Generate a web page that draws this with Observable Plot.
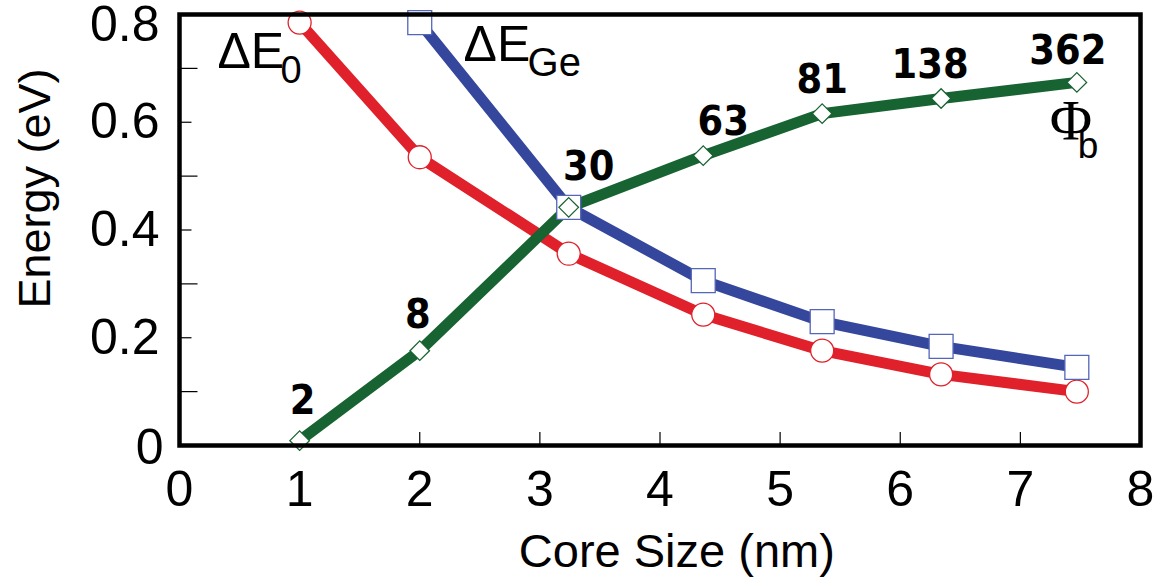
<!DOCTYPE html>
<html>
<head>
<meta charset="utf-8">
<script src="https://cdn.jsdelivr.net/npm/d3@7"></script>
<script src="https://cdn.jsdelivr.net/npm/@observablehq/plot@0.6"></script>
<style>
  html, body { margin: 0; padding: 0; background: #fff; }
  #chart svg { display: block; }
</style>
</head>
<body>
<div id="chart"></div>
<script>
// Core size (nm) for each sample
const coreSize = [1, 2, 3.24, 4.36, 5.35, 6.34, 7.47];
// ΔE0 (red circles)
const dE0 = [0.785, 0.535, 0.356, 0.243, 0.176, 0.132, 0.100];
// ΔEGe (blue squares) – starts at the second size
const dEGeSize = [2, 3.24, 4.36, 5.35, 6.34, 7.47];
const dEGe = [0.785, 0.442, 0.306, 0.230, 0.184, 0.145];
// Φb (green diamonds)
const phiB = [0.009, 0.176, 0.442, 0.538, 0.616, 0.644, 0.674];
// numbers of atoms labelled on the Φb points
const atomLabels = ["2", "8", "30", "63", "81", "138", "362"];

const xTicks = [0, 1, 2, 3, 4, 5, 6, 7, 8];
const yTicks = [0, 0.2, 0.4, 0.6, 0.8];
const yMinor = [0.1, 0.3, 0.5, 0.7];
const xLabel = "Core Size (nm)";
const yLabel = "Energy (eV)";

const red = "#e0202a", blue = "#34479c", green = "#176331";
const sans = "'Liberation Sans', Arial, Helvetica, sans-serif";
const narrowBold = "'Liberation Sans Narrow', 'Arial Narrow', 'DejaVu Sans Condensed', sans-serif";

const redData = coreSize.map((x, i) => ({x, y: dE0[i]}));
const blueData = dEGeSize.map((x, i) => ({x, y: dEGe[i]}));
const greenData = coreSize.map((x, i) => ({x, y: phiB[i], label: atomLabels[i]}));

const labelDx = {"2": 3, "8": -2, "30": 20, "63": 20, "81": 0, "138": -11, "362": -9};
const labelDy = {"2": -40, "8": -36, "30": -40, "63": -34, "81": -34, "138": -34, "362": -32};

const plot = Plot.plot({
  width: 1163,
  height: 587,
  marginLeft: 179,
  marginRight: 23,
  marginTop: 14,
  marginBottom: 142,
  style: {fontFamily: sans, background: "#fff", color: "#000"},
  x: {domain: [0, 8]},
  y: {domain: [0, 0.8]},
  marks: [
    // inward ticks
    Plot.ruleX(xTicks.slice(1, -1), {y1: 0, y2: 0.024, stroke: "#000", strokeWidth: 1.2}),
    Plot.ruleY(yTicks.slice(1, -1), {x1: 0, x2: 0.104, stroke: "#000", strokeWidth: 1.2}),
    Plot.ruleY(yMinor, {x1: 0, x2: 0.154, stroke: "#000", strokeWidth: 1.2}),
    // axes (labels only)
    Plot.axisX({ticks: xTicks, tickSize: 0, tickPadding: 25, fontSize: 50, label: null, tickFormat: d => String(d)}),
    Plot.axisY({ticks: yTicks.slice(1, -1), tickSize: 0, tickPadding: 20, fontSize: 50, label: null, tickFormat: d => d.toFixed(1)}),
    Plot.axisY({ticks: [0.8], tickSize: 0, tickPadding: 20, fontSize: 50, label: null, dy: 10, tickFormat: d => d.toFixed(1)}),
    Plot.axisY({ticks: [0], tickSize: 0, tickPadding: 16, fontSize: 50, label: null, dy: 2, tickFormat: d => "0"}),
    // axis titles
    Plot.text([xLabel], {x: 4.14, frameAnchor: "bottom", lineAnchor: "middle", textAnchor: "middle", dy: 106, text: d => d, fontSize: 47, fill: "#000"}),
    Plot.text([yLabel], {y: 0.477, frameAnchor: "left", lineAnchor: "middle", textAnchor: "middle", dx: -144, rotate: -90, text: d => d, fontSize: 45, fill: "#000"}),
    // lines
    Plot.line(redData, {x: "x", y: "y", stroke: red, strokeWidth: 11}),
    Plot.line(blueData, {x: "x", y: "y", stroke: blue, strokeWidth: 11}),
    Plot.line(greenData, {x: "x", y: "y", stroke: green, strokeWidth: 11}),
    // markers
    Plot.dot(redData, {x: "x", y: "y", r: 11.5, fill: "#fff", stroke: red, strokeWidth: 1.3}),
    Plot.dot(blueData, {x: "x", y: "y", r: 13.5, symbol: "square", fill: "#fff", stroke: "#5565b8", strokeWidth: 1.3}),
    Plot.dot(greenData, {x: "x", y: "y", r: 8.8, symbol: "diamond2", fill: "#fff", stroke: green, strokeWidth: 1.3}),
    // frame
    Plot.frame({stroke: "#000", strokeWidth: 4.5}),
    // atom count labels
    ...greenData.map(d => Plot.text([d], {x: "x", y: "y", text: "label", dx: labelDx[d.label], dy: labelDy[d.label],
      fontSize: 41, fontWeight: "bold", fontFamily: narrowBold, fill: "#000"})),
    // series labels
    Plot.text(["ΔE"], {x: 0.316, y: 0.7295, text: d => d, textAnchor: "start", fontSize: 50, fill: "#000"}),
    Plot.text(["0"], {x: 0.841, y: 0.6946, text: d => d, textAnchor: "start", fontSize: 38, fill: "#000"}),
    Plot.text(["ΔE"], {x: 2.365, y: 0.7443, text: d => d, textAnchor: "start", fontSize: 50, fill: "#000"}),
    Plot.text(["Ge"], {x: 2.898, y: 0.7105, text: d => d, textAnchor: "start", fontSize: 40, fill: "#000"}),
    Plot.text(["Φ"], {x: 7.244, y: 0.6007, text: d => d, textAnchor: "start", fontSize: 58, fontFamily: "'Liberation Serif', 'Times New Roman', serif", fill: "#000"}),
    Plot.text(["b"], {x: 7.477, y: 0.5565, text: d => d, textAnchor: "start", fontSize: 37, fill: "#000"})
  ]
});
document.getElementById("chart").appendChild(plot);
</script>
</body>
</html>
